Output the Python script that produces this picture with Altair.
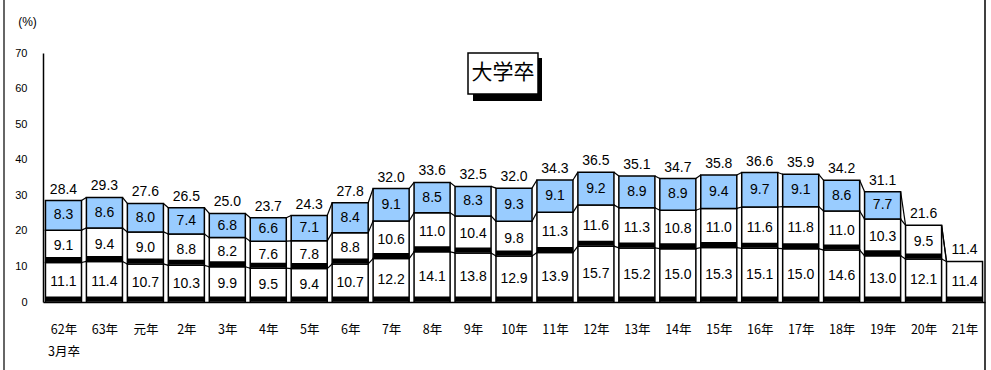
import altair as alt
import pandas as pd

# Graduation year labels ("|" marks a line break in the axis label)
years = ["62年|3月卒", "63年", "元年", "2年", "3年", "4年", "5年", "6年", "7年",
         "8年", "9年", "10年", "11年", "12年", "13年", "14年", "15年", "16年",
         "17年", "18年", "19年", "20年", "21年"]

# Share leaving within 1st / 2nd / 3rd year (%)
first_year = [11.1, 11.4, 10.7, 10.3, 9.9, 9.5, 9.4, 10.7, 12.2, 14.1, 13.8, 12.9,
              13.9, 15.7, 15.2, 15.0, 15.3, 15.1, 15.0, 14.6, 13.0, 12.1, 11.4]
second_year = [9.1, 9.4, 9.0, 8.8, 8.2, 7.6, 7.8, 8.8, 10.6, 11.0, 10.4, 9.8,
               11.3, 11.6, 11.3, 10.8, 11.0, 11.6, 11.8, 11.0, 10.3, 9.5, None]
third_year = [8.3, 8.6, 8.0, 7.4, 6.8, 6.6, 7.1, 8.4, 9.1, 8.5, 8.3, 9.3,
              9.1, 9.2, 8.9, 8.9, 9.4, 9.7, 9.1, 8.6, 7.7, None, None]
totals = [28.4, 29.3, 27.6, 26.5, 25.0, 23.7, 24.3, 27.8, 32.0, 33.6, 32.5, 32.0,
          34.3, 36.5, 35.1, 34.7, 35.8, 36.6, 35.9, 34.2, 31.1, 21.6, 11.4]

HALF = 0.44  # half bar width in category units
NUM_FONT = "Liberation Sans"
JP_FONT = "Noto Sans CJK JP"
BLUE = "#99ccff"

# Segment table: one row per stacked box
seg_rows = []
cum_rows = []
for i in range(len(years)):
    base = 0.0
    levels = []
    for k, series in enumerate([first_year, second_year, third_year]):
        v = series[i]
        if v is not None:
            seg_rows.append({"i": i, "x0": i - HALF, "x1": i + HALF, "seg": k,
                             "start": base, "end": base + v, "mid": base + v / 2,
                             "val": v})
            base += v
        levels.append(base)
    cum_rows.append(levels)
seg = pd.DataFrame(seg_rows)

# Step connectors between neighbouring bars at each boundary level
conn_rows = []
for i in range(len(years) - 1):
    for k in range(3):
        conn_rows.append({"xa": i + HALF, "xb": i + 1 - HALF,
                          "ya": cum_rows[i][k], "yb": cum_rows[i + 1][k]})
conn = pd.DataFrame(conn_rows)

tot = pd.DataFrame({"i": list(range(len(years))),
                    "top": [c[2] for c in cum_rows],
                    "total": totals})

label_arr = "[" + ",".join("'" + y + "'" for y in years) + "]"

xscale = alt.Scale(domain=[-0.5, len(years) - 0.5], nice=False, zero=False)
yscale = alt.Scale(domain=[0, 70], nice=False)

x_axis = alt.Axis(values=list(range(len(years))), title=None, ticks=False,
                  grid=False, domain=True, domainColor="black", domainWidth=1.5,
                  labelExpr=f"split({label_arr}[datum.value], '|')",
                  labelFont=JP_FONT, labelFontSize=12.5, labelColor="black",
                  labelPadding=21, labelLineHeight=22, labelAngle=0,
                  labelOverlap=False, labelFlush=False)
y_axis = alt.Axis(values=list(range(0, 71, 10)), title="(%)", ticks=False,
                  grid=False, domain=True, domainColor="black", domainWidth=1.5,
                  labelFont=NUM_FONT, labelFontSize=11, labelColor="black",
                  labelPadding=16, labelOverlap=False, labelFlush=False,
                  titleAngle=0, titleX=-16, titleY=-32,
                  titleFont=NUM_FONT, titleFontSize=12, titleFontWeight="normal",
                  titleAlign="center", titleBaseline="middle", titleColor="black")


def X(field):
    return alt.X(field, scale=xscale, axis=x_axis)


def Y(field):
    return alt.Y(field, scale=yscale, axis=y_axis)


boxes = alt.Chart(seg).mark_rect(stroke="black", strokeWidth=1.5).encode(
    x=X("x0:Q"), x2="x1:Q", y=Y("start:Q"), y2="end:Q",
    fill=alt.condition("datum.seg == 2", alt.value(BLUE), alt.value("white")),
)

# Dark shading along the base of the lower boxes
shade = alt.Chart(seg).transform_filter("datum.seg < 2").mark_rule(
    color="black", strokeWidth=5, yOffset=-3, strokeCap="butt"
).encode(x=X("x0:Q"), x2="x1:Q", y=Y("start:Q"))

links = alt.Chart(conn).mark_rule(color="black", strokeWidth=1.2).encode(
    x=X("xa:Q"), x2="xb:Q", y=Y("ya:Q"), y2="yb:Q")

seg_text = alt.Chart(seg).mark_text(font=NUM_FONT, fontSize=14, color="black",
                                    baseline="middle").encode(
    x=X("i:Q"), y=Y("mid:Q"), text=alt.Text("val:Q", format=".1f"))

tot_text = alt.Chart(tot).mark_text(font=NUM_FONT, fontSize=14, color="black",
                                    baseline="middle", dy=-11).encode(
    x=X("i:Q"), y=Y("top:Q"), text=alt.Text("total:Q", format=".1f"))

# Boxed panel title with drop shadow
title_shadow = alt.Chart(tot).transform_filter("datum.i == 0").mark_rect(
    color="black").encode(x=alt.value(430), x2=alt.value(499),
                          y=alt.value(5), y2=alt.value(48))
title_box = alt.Chart(tot).transform_filter("datum.i == 0").mark_rect(
    fill="white", stroke="black", strokeWidth=1.5).encode(
    x=alt.value(425), x2=alt.value(495), y=alt.value(0), y2=alt.value(41))
title_text = alt.Chart(tot).transform_filter("datum.i == 0").mark_text(
    text="大学卒", font=JP_FONT, fontSize=21, color="black",
    baseline="middle", align="center").encode(x=alt.value(460), y=alt.value(20))

# Outer frame lines
frame_left = alt.Chart(tot).transform_filter("datum.i == 0").mark_rule(
    color="#666666", strokeWidth=2).encode(
    x=alt.value(-39), y=alt.value(-53), y2=alt.value(317))
frame_right = alt.Chart(tot).transform_filter("datum.i == 0").mark_rule(
    color="black", strokeWidth=1.5).encode(
    x=alt.value(942), y=alt.value(-53), y2=alt.value(317))

chart = alt.layer(
    boxes, shade, links, seg_text, tot_text,
    title_shadow, title_box, title_text, frame_left, frame_right
).properties(
    width=942, height=249,
    autosize=alt.AutoSizeParams(type="none"),
    padding={"left": 43, "top": 53, "right": 6, "bottom": 68},
    background="white",
).configure_view(stroke=None)

chart.save("out.html", embed_options={"renderer": "svg", "actions": False})
